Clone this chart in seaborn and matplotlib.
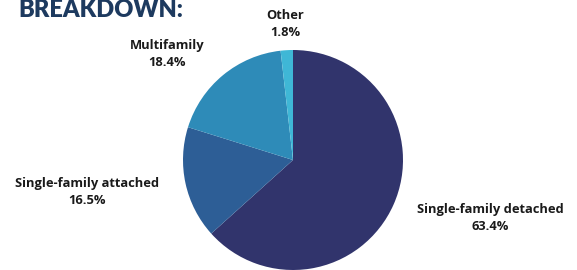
import matplotlib
matplotlib.use("Agg")
import matplotlib.pyplot as plt
import seaborn as sns

categories = ["Single-family detached", "Single-family attached", "Multifamily", "Other"]
shares = [63.4, 16.5, 18.4, 1.8]
pct_labels = ["63.4%", "16.5%", "18.4%", "1.8%"]
title_text = "BREAKDOWN:"

sns.set_theme(style="white")
plt.rcParams['font.family'] = ['Open Sans', 'DejaVu Sans']

colors = sns.color_palette(["#31346c", "#2d5e96", "#2e8bb8", "#3fb7d6"])

W, H = 577, 270
fig = plt.figure(figsize=(W / 100, H / 100), dpi=100)
ax = fig.add_axes([0, 0, 1, 1])

ax.pie(shares, colors=colors, startangle=90, counterclock=False,
       center=(293, 110), radius=110, frame=True,
       wedgeprops=dict(linewidth=0))
ax.set_xlim(0, W)
ax.set_ylim(0, H)
ax.set_aspect("equal")
ax.axis("off")

label_pos = [(490, 52), (87, 78), (167, 216), (285, 246)]
for cat, pct, (x, y) in zip(categories, pct_labels, label_pos):
    ax.text(x, y, f"{cat}\n{pct}", ha="center", va="center", fontsize=9.3,
            fontweight="bold", color="#1a1a1a", linespacing=1.45)

ax.text(18, 253, title_text, ha="left", va="baseline", fontsize=17,
        fontweight="heavy", color="#1d3a5f", family=["Lato", "DejaVu Sans"])

fig.savefig("out.png", dpi=100)
